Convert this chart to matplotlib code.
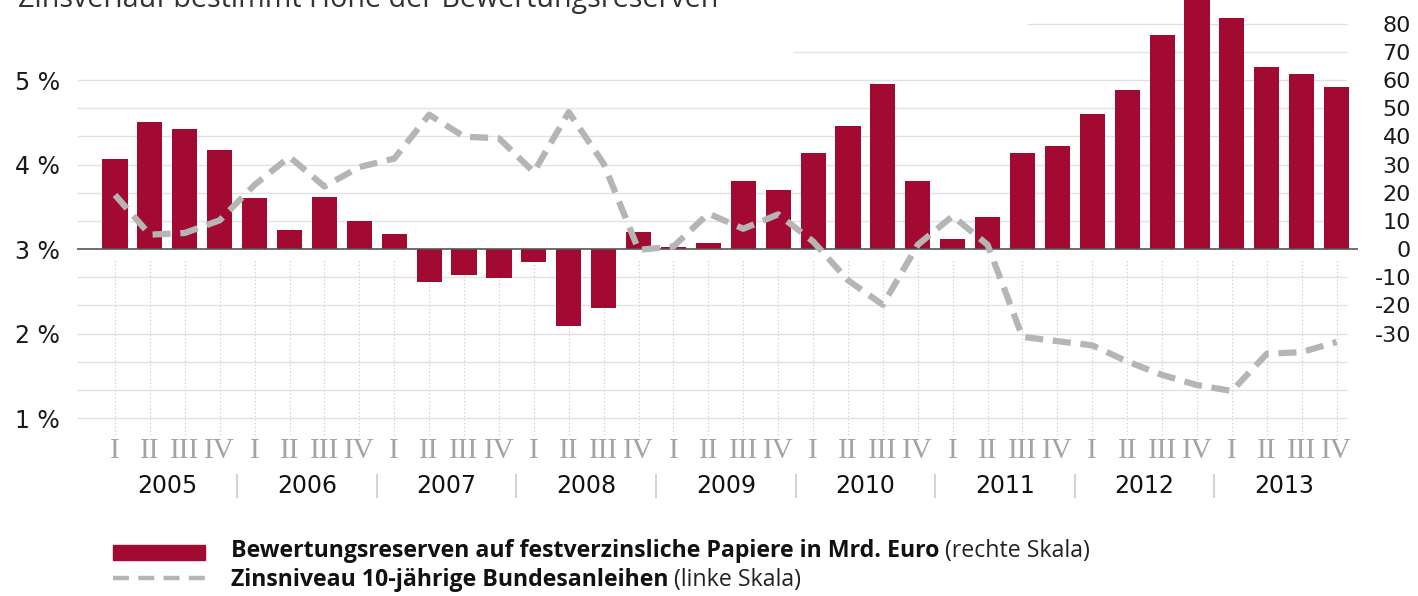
import matplotlib
matplotlib.use('Agg')
import matplotlib.pyplot as plt
from matplotlib.patches import Rectangle
from matplotlib.lines import Line2D

plt.rcParams['font.family'] = ['DejaVu Sans']
plt.rcParams['lines.scale_dashes'] = False

# Daten: Quartale 2005 I bis 2013 IV
years = ['2005', '2006', '2007', '2008', '2009', '2010', '2011', '2012', '2013']
quarters = ['I', 'II', 'III', 'IV']
# Bewertungsreserven in Mrd. Euro (rechte Skala)
reserves = [32, 45, 42.5, 35, 18, 6.8, 18.5, 10,
            5.3, -11.7, -9.4, -10.2, -4.7, -27.2, -21, 6,
            0.6, 2.2, 24, 21, 34, 43.5, 58.5, 24,
            3.6, 11.3, 34, 36.5, 48, 56.5, 76, 90,
            82, 64.5, 62, 57.5]
# Zinsniveau 10-jaehrige Bundesanleihen in % (linke Skala)
yields = [3.64, 3.17, 3.19, 3.34, 3.76, 4.09, 3.74, 3.97,
          4.07, 4.59, 4.33, 4.31, 3.91, 4.62, 4.01, 2.99,
          3.03, 3.42, 3.24, 3.41, 3.09, 2.63, 2.34, 3.05,
          3.39, 3.05, 1.96, 1.91, 1.86, 1.67, 1.51, 1.39,
          1.32, 1.76, 1.78, 1.90]
left_ticks = [1, 2, 3, 4, 5]
right_ticks = [-30, -20, -10, 0, 10, 20, 30, 40, 50, 60, 70, 80]

W, H = 1418, 596
red = '#a30a31'
grey_line = '#b5b5b5'

fig = plt.figure(figsize=(W / 100, H / 100), dpi=100)
ax2 = fig.add_axes([75 / W, 156 / H, 1285 / W, 440 / H])   # rechte Skala, Balken
ax = ax2.twinx()                                           # linke Skala, Linie
ax.yaxis.tick_left()
ax2.yaxis.tick_right()

x = list(range(len(reserves)))
ax2.set_xlim(-1.146, 35.67)
ax2.set_ylim(-67.8, 88.4)
ax.set_ylim(0.74, 5.947)

# Gitter
for v in range(-60, 61, 10):
    if v != 0:
        ax2.hlines(v, -1.09, 35.3, color='#e2e2e2', lw=1, zorder=0)
ax2.hlines(70, 19.43, 35.3, color='#e2e2e2', lw=1, zorder=0)
ax2.hlines(80, 26.13, 35.3, color='#e2e2e2', lw=1, zorder=0)
ax2.vlines(x, -66, -3.9, color='#cfcfcf', lw=0.8, linestyles=':', zorder=0)

ax2.bar(x, reserves, width=0.72, color=red, zorder=2)
ax2.hlines(0, -1.09, 35.62, color='#555555', lw=1.2, zorder=3)

ln, = ax.plot(x, yields, color=grey_line, lw=4.5, zorder=4,
              solid_joinstyle='round', dash_joinstyle='round')
ln.set_dashes((13, 7))

for a in (ax, ax2):
    for s in a.spines.values():
        s.set_visible(False)

ax.set_yticks(left_ticks, labels=[f'{t} %' for t in left_ticks])
ax.tick_params(axis='y', length=0, pad=11, labelsize=17, labelcolor='#1a1a1a')
ax2.set_yticks(right_ticks, labels=[str(t) for t in right_ticks])
ax2.tick_params(axis='y', length=0, pad=36.7, labelsize=16, labelcolor='#1a1a1a')
for lab in ax2.get_yticklabels():
    lab.set_horizontalalignment('right')

ax2.set_xticks(x, labels=quarters * len(years))
ax2.tick_params(axis='x', length=0, pad=-1.5, labelsize=21, labelcolor='#a3a3a3')
for lab in ax2.get_xticklabels():
    lab.set_fontfamily('Liberation Serif')

xt = ax2.get_xaxis_transform()
for i, yr in enumerate(years):
    ax2.text(4 * i + 1.5, -0.1045, yr, transform=xt, ha='center', va='center',
             fontsize=17, color='#111111')
    if i > 0:
        ax2.plot([4 * i - 0.5] * 2, [-0.079, -0.129], transform=xt,
                 color='#d5d5d5', lw=1.5, clip_on=False)

renderer = fig.canvas.get_renderer()


def fig_text(px, py, s, **kw):
    return fig.text(px / W, 1 - py / H, s, **kw)


def fit_text(px, py, s, width, **kw):
    t = fig_text(px, py, s, fontsize=10, **kw)
    w = t.get_window_extent(renderer).width
    t.set_fontsize(10 * width / w)
    return t


# Titel (oben abgeschnitten)
fit_text(18, 7, 'Zinsverlauf bestimmt Höhe der Bewertungsreserven', 697,
         family='Open Sans', color='#333333', va='baseline')

# Legende
fig.patches.append(Rectangle((113 / W, 1 - 560 / H), 92 / W, 15 / H,
                             transform=fig.transFigure, color=red))
lg = Line2D([113 / W, 205 / W], [1 - 578 / H] * 2, transform=fig.transFigure,
            color=grey_line, lw=3.2, solid_capstyle='butt', dash_capstyle='butt')
lg.set_dashes((11.5, 6.7))
fig.lines.append(lg)

b1 = fit_text(231, 551, 'Bewertungsreserven auf festverzinsliche Papiere in Mrd. Euro', 714,
              family='Open Sans', weight='bold', color='#111111', va='center')
fs = b1.get_fontsize()
fig_text(b1.get_window_extent(renderer).x1 + 6, 551, '(rechte Skala)', family='Open Sans',
         fontsize=fs, color='#222222', va='center')
b2 = fig_text(231, 580, 'Zinsniveau 10-jährige Bundesanleihen', family='Open Sans',
              weight='bold', fontsize=fs, color='#111111', va='center')
fig_text(b2.get_window_extent(renderer).x1 + 6, 580, '(linke Skala)', family='Open Sans',
         fontsize=fs, color='#222222', va='center')

fig.savefig('out.png', dpi=100)
